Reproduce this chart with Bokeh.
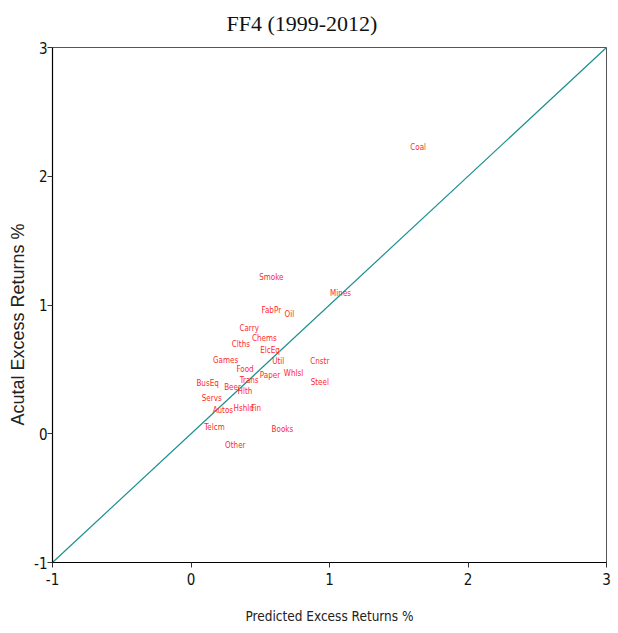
from bokeh.plotting import figure
from bokeh.models import Range1d, ColumnDataSource, FixedTicker, Title
from bokeh.core.properties import value
from bokeh.embed import file_html
from bokeh.resources import INLINE

industries = ["Coal", "Smoke", "Mines", "FabPr", "Oil", "Carry", "Chems", "Clths", "ElcEq",
              "Games", "Util", "Cnstr", "Food", "Whlsl", "Paper", "Trans", "BusEq", "Steel",
              "Beer", "Hlth", "Servs", "Hshld", "Fin", "Autos", "Telcm", "Books", "Other"]
predicted = [1.64, 0.58, 1.08, 0.58, 0.71, 0.42, 0.53, 0.36, 0.57,
             0.25, 0.63, 0.93, 0.39, 0.74, 0.57, 0.42, 0.12, 0.93,
             0.30, 0.39, 0.15, 0.38, 0.47, 0.23, 0.17, 0.66, 0.32]
actual = [2.22, 1.21, 1.09, 0.96, 0.93, 0.82, 0.74, 0.69, 0.65,
          0.57, 0.56, 0.56, 0.50, 0.47, 0.45, 0.41, 0.39, 0.40,
          0.36, 0.33, 0.27, 0.20, 0.20, 0.18, 0.05, 0.03, -0.09]
diag = [-1, 3]
ticks = [-1, 0, 1, 2, 3]
tick_labels = {-1: "-1", 0: "0", 1: "1", 2: "2", 3: "3"}

NARROW = "DejaVu Sans Condensed"

p = figure(width=618, height=633, output_backend="svg", toolbar_location=None,
           x_range=Range1d(-1, 3), y_range=Range1d(-1, 3),
           min_border_left=52, min_border_right=12, min_border_top=0, min_border_bottom=71)

p.title.text = "FF4 (1999-2012)"
p.title.text_font = "Liberation Serif"
p.title.text_font_size = "22px"
p.title.text_font_style = "normal"
p.title.text_color = "#111111"
p.title.align = "left"
p.title.offset = 174
p.title.vertical_align = "top"
p.title.standoff = 20

p.grid.visible = False
p.outline_line_color = "#555555"
p.outline_line_width = 1
p.background_fill_color = "white"
p.border_fill_color = "white"

p.line(diag, diag, line_color="#1a8f8f", line_width=1.2)

src = ColumnDataSource(dict(x=predicted, y=actual, t=industries))
p.text("x", "y", text="t", source=src, text_color="#ff2a2a", text_font=value(NARROW),
       text_font_size="8px", text_align="center", text_baseline="middle")

for ax in (p.xaxis[0], p.yaxis[0]):
    ax.ticker = FixedTicker(ticks=ticks)
    ax.major_label_overrides = tick_labels
    ax.minor_tick_line_color = None
    ax.major_tick_out = 5
    ax.major_tick_in = 0
    ax.axis_line_color = "black"
    ax.axis_line_width = 1.2
    ax.major_tick_line_color = "#333333"
    ax.major_label_text_font = NARROW
    ax.major_label_text_font_size = "15px"
    ax.major_label_text_color = "#111111"

p.xaxis.axis_label = "Predicted Excess Returns %"
p.xaxis.axis_label_text_font = NARROW
p.xaxis.axis_label_text_font_size = "13.5px"
p.xaxis.axis_label_text_font_style = "normal"
p.xaxis.axis_label_text_color = "#222222"
p.xaxis.axis_label_standoff = 20
p.xaxis.major_label_standoff = 5
p.yaxis.major_label_standoff = 0

ytitle = Title(text="Acutal Excess Returns %", text_font="Liberation Sans",
               text_font_size="18px", text_font_style="normal", text_color="#222222",
               align="left", offset=137, vertical_align="bottom", standoff=8)
p.add_layout(ytitle, "left")

open("out.html", "w").write(file_html(p, INLINE))
